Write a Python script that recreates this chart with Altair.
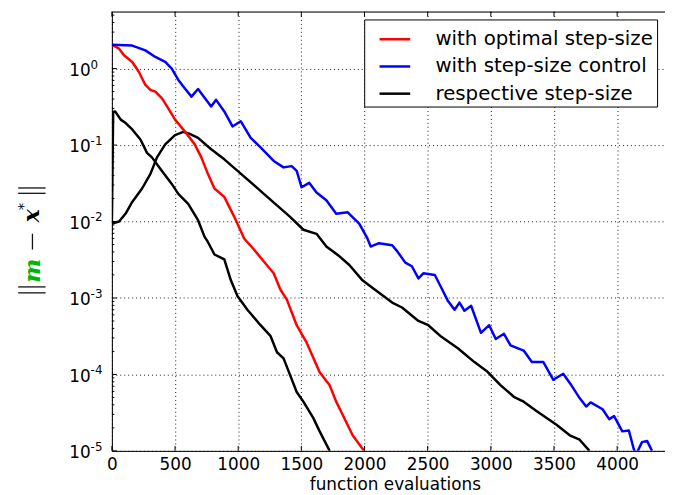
import altair as alt
import pandas as pd

# ---------------- data ----------------
SERIES = ["with optimal step-size", "with step-size control", "respective step-size"]
COLORS = ["#ff0000", "#0000ff", "#000000"]

red_x = [0, 57, 96, 161, 213, 265, 305, 344, 395, 448, 500, 578, 656, 708, 760, 812,
         890, 969, 1047, 1125, 1203, 1281, 1333, 1385, 1463, 1542, 1645, 1724, 1776,
         1828, 1906, 1997]
red_y = [2.05, 1.82, 1.49, 1.22, 0.91, 0.61, 0.525, 0.50, 0.41, 0.30, 0.215, 0.15,
         0.102, 0.069, 0.042, 0.027, 0.021, 0.0115, 0.0060, 0.0043, 0.0030, 0.0021,
         0.0013, 0.00095, 0.00044, 0.00026, 0.000107, 7.2e-5, 4.4e-5, 2.95e-5, 1.6e-5,
         1.0e-5]

blue_x = [0, 161, 265, 344, 422, 474, 526, 578, 630, 682, 786, 825, 890, 955, 1020,
          1099, 1177, 1281, 1359, 1424, 1463, 1502, 1562, 1620, 1698, 1776, 1867, 1958,
          2023, 2049, 2114, 2219, 2258, 2323, 2375, 2427, 2466, 2557, 2609, 2661, 2713,
          2752, 2791, 2844, 2922, 2987, 3039, 3104, 3156, 3260, 3325, 3416, 3495, 3573,
          3638, 3703, 3755, 3790, 3885, 3937, 3976, 4041, 4093, 4132, 4150, 4197, 4237,
          4276]
blue_y = [2.05, 2.0, 1.73, 1.42, 1.22, 1.0, 0.71, 0.55, 0.43, 0.54, 0.32, 0.39, 0.275,
          0.175, 0.205, 0.124, 0.093, 0.062, 0.051, 0.053, 0.046, 0.028, 0.032, 0.024,
          0.019, 0.0126, 0.0132, 0.0094, 0.0060, 0.0047, 0.0052, 0.0049, 0.0041, 0.0029,
          0.0026, 0.0018, 0.0021, 0.0020, 0.00135, 0.00091, 0.0007, 0.00087, 0.00068,
          0.00079, 0.00035, 0.00044, 0.00029, 0.00034, 0.00024, 0.000205, 0.000145,
          0.000145, 8.5e-5, 0.000102, 7.2e-5, 4.9e-5, 3.8e-5, 4.3e-5, 3.5e-5, 2.6e-5,
          2.85e-5, 1.8e-5, 1.85e-5, 1.05e-5, 9.0e-6, 1.3e-5, 1.35e-5, 1.0e-5]

stepA_x = [0, 10, 26, 70, 109, 161, 226, 278, 317, 383, 474, 526, 604, 682, 734, 760,
           812, 890, 942, 995, 1073, 1177, 1255, 1307, 1359, 1411, 1463, 1516, 1594,
           1645, 1724]
stepA_y = [0.0095, 0.27, 0.275, 0.215, 0.194, 0.16, 0.118, 0.079, 0.069, 0.049, 0.031,
           0.023, 0.017, 0.0104, 0.0063, 0.0054, 0.0037, 0.0032, 0.0017, 0.00105,
           0.0007, 0.00044, 0.00032, 0.000195, 0.000162, 9.8e-5, 5.9e-5, 4.4e-5,
           2.7e-5, 1.8e-5, 1.0e-5]

stepB_x = [0, 57, 109, 161, 239, 305, 357, 422, 500, 565, 617, 682, 786, 890, 995, 1203,
           1411, 1516, 1620, 1698, 1802, 1880, 1984, 2062, 2219, 2297, 2427, 2505, 2609,
           2739, 2870, 2974, 3078, 3182, 3260, 3364, 3520, 3625, 3703, 3781]
stepB_y = [0.0094, 0.010, 0.0127, 0.018, 0.027, 0.042, 0.069, 0.102, 0.135, 0.149, 0.14,
           0.124, 0.088, 0.065, 0.046, 0.023, 0.0115, 0.0078, 0.0069, 0.0047, 0.0035,
           0.0027, 0.0017, 0.00136, 0.00087, 0.00075, 0.0005, 0.00044, 0.00031, 0.00022,
           0.000145, 0.000108, 7.2e-5, 5.1e-5, 4.4e-5, 3.3e-5, 2.2e-5, 1.6e-5, 1.4e-5,
           1.0e-5]

x_ticks = [0, 500, 1000, 1500, 2000, 2500, 3000, 3500, 4000]
y_ticks = [1e-5, 1e-4, 1e-3, 1e-2, 1e-1, 1.0]
y_exps = ["-5", "-4", "-3", "-2", "-1", "0"]
y_minor = [k * t for t in y_ticks for k in range(2, 10) if k * t < 5.5]

# ---------------- build tables ----------------
rows = []
for curve, series, xs, ys in [
    ("stepA", SERIES[2], stepA_x, stepA_y),
    ("stepB", SERIES[2], stepB_x, stepB_y),
    ("red", SERIES[0], red_x, red_y),
    ("blue", SERIES[1], blue_x, blue_y),
]:
    for xv, yv in zip(xs, ys):
        rows.append({"curve": curve, "series": series, "x": xv, "y": yv})
df = pd.DataFrame(rows)

ymaj_df = pd.DataFrame({"y": y_ticks, "e": y_exps})
ymin_df = pd.DataFrame({"y": y_minor})
xt_df = pd.DataFrame({"x": x_ticks})

W, H = 559, 444
xscale = alt.Scale(domain=[0, 4379], nice=False, zero=False)
yscale = alt.Scale(type="log", domain=[1e-5, 5.57], nice=False)
FONT = "DejaVu Sans"

xaxis = alt.Axis(
    values=x_ticks, format="d", title="function evaluations",
    titleFont=FONT, titleFontSize=17, titleFontWeight="normal", titleColor="black",
    titleX=286, titleY=39, titleBaseline="alphabetic", titleAlign="center",
    grid=True, gridDash=[1, 3], gridColor="black", gridWidth=1, gridOpacity=0.9,
    ticks=False, tickSize=0, labelPadding=6, labelFont=FONT, labelFontSize=17,
    labelColor="black", labelFlush=False, domainColor="black", domainWidth=1)
yaxis = alt.Axis(
    values=y_ticks, labelExpr="'10'", title=None,
    grid=True, gridDash=[1, 3], gridColor="black", gridWidth=1, gridOpacity=0.9,
    ticks=False, tickSize=0, labelPadding=22, labelFont=FONT, labelFontSize=17,
    labelColor="black", labelBaseline="middle", labelOffset=2,
    domainColor="black", domainWidth=1)

X = alt.X("x:Q", scale=xscale, axis=xaxis)
Y = alt.Y("y:Q", scale=yscale, axis=yaxis)

lines = alt.Chart(df).mark_line(strokeWidth=2.5, clip=True, strokeJoin="round").encode(
    x=X, y=Y,
    color=alt.Color("series:N", scale=alt.Scale(domain=SERIES, range=COLORS),
                    legend=alt.Legend(
                        title=None, orient="none", legendX=255, legendY=8,
                        direction="vertical", symbolType="stroke", symbolSize=961,
                        symbolStrokeWidth=2.5, symbolOffset=11, labelFont=FONT,
                        labelFontSize=20, labelOffset=24, labelColor="black",
                        labelLimit=500, labelExpr="datum.label + '\u00a0\u00a0\u00a0\u00a0'",
                        strokeColor="black", fillColor="white", padding=3,
                        rowPadding=0.5, cornerRadius=0)),
    detail="curve:N",
)

# top frame line
top_line = alt.Chart(pd.DataFrame({"a": [0]})).mark_rule(color="black", strokeWidth=1).encode(
    x=alt.value(0), x2=alt.value(W), y=alt.value(0.5))

# inward ticks
ytick_major = alt.Chart(ymaj_df).mark_rule(color="black", strokeWidth=1).encode(
    y=Y, x=alt.value(0), x2=alt.value(5))
ytick_minor = alt.Chart(ymin_df).mark_rule(color="black", strokeWidth=1).encode(
    y=Y, x=alt.value(0), x2=alt.value(2.5))
xtick_bottom = alt.Chart(xt_df).mark_rule(color="black", strokeWidth=1).encode(
    x=X, y=alt.value(H), y2=alt.value(H - 5))
xtick_top = alt.Chart(xt_df).mark_rule(color="black", strokeWidth=1).encode(
    x=X, y=alt.value(0), y2=alt.value(5))

# exponents of the y tick labels
exps = alt.Chart(ymaj_df).mark_text(align="left", baseline="middle", font=FONT,
                                    fontSize=12, dy=-4, color="black").encode(
    y=Y, x=alt.value(-21.5), text="e:N")

# y-axis title  ||m - x*||
def ttext(txt, x, y, size, color="black", font=FONT, weight="normal", style="normal", angle=270):
    return alt.Chart(pd.DataFrame({"a": [0]})).mark_text(
        text=txt, angle=angle, align="center", baseline="middle", fontSize=size,
        font=font, fontWeight=weight, fontStyle=style, color=color).encode(
        x=alt.value(x), y=alt.value(y))

def hbar(y, x1=-94.7, x2=-67):
    return alt.Chart(pd.DataFrame({"a": [0]})).mark_rule(color="#111111", strokeWidth=1.3).encode(
        x=alt.value(x1), x2=alt.value(x2), y=alt.value(y))

minus_bar = alt.Chart(pd.DataFrame({"a": [0]})).mark_rule(color="#111111", strokeWidth=1.3).encode(
    x=alt.value(-80.3), y=alt.value(224.5), y2=alt.value(240.5))

ytitle = [
    hbar(178.3), hbar(183.7),
    ttext("x", -81, 206.5, 22, font="DejaVu Serif", weight="bold", style="italic"),
    ttext("*", -89.7, 197, 15),
    minus_bar,
    ttext("m", -80, 262, 23, color="#00b400", font="DejaVu Serif", weight="bold", style="italic"),
    hbar(278.3), hbar(284.3),
]

chart = alt.layer(
    lines, top_line, ytick_major, ytick_minor, xtick_bottom, xtick_top, exps, *ytitle
).properties(
    width=W, height=H,
    autosize=alt.AutoSizeParams(type="none"),
    padding={"left": 105, "top": 1, "right": 0, "bottom": 41},
).configure_view(stroke=None).configure(background="white").configure_legend(strokeWidth=1)

chart.save("out.html", embed_options={"renderer": "svg", "actions": False})
